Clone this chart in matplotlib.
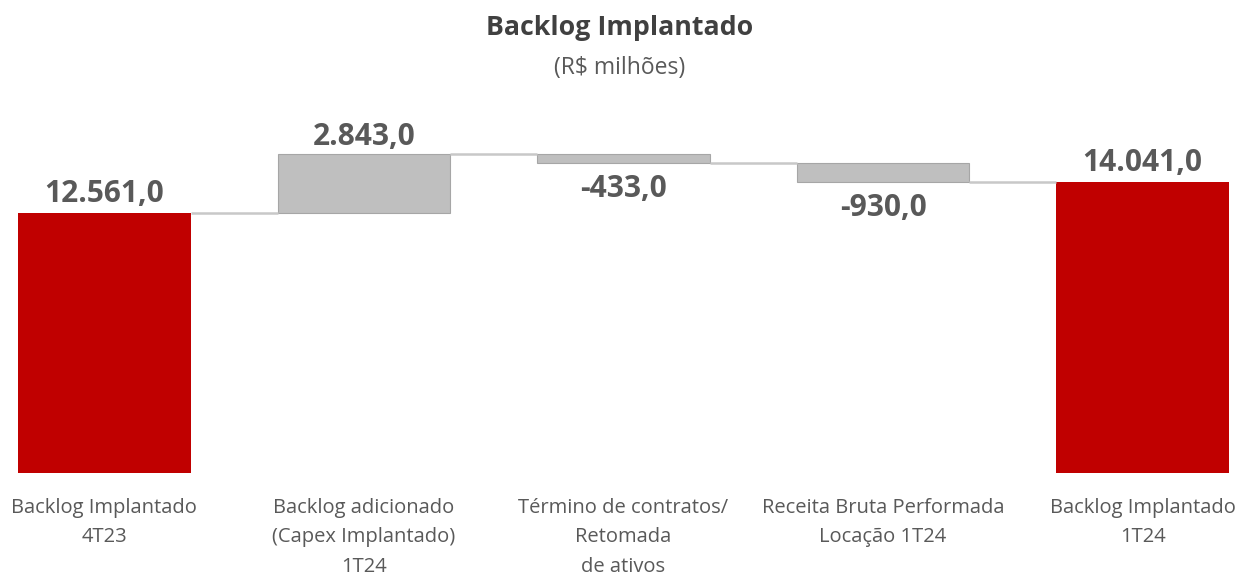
import matplotlib
matplotlib.use("Agg")
import matplotlib.pyplot as plt
import numpy as np

plt.rcParams["font.family"] = ["Open Sans", "DejaVu Sans"]

categories = [
    "Backlog Implantado\n4T23",
    "Backlog adicionado\n(Capex Implantado)\n1T24",
    "Término de contratos/\nRetomada\nde ativos",
    "Receita Bruta Performada\nLocação 1T24",
    "Backlog Implantado\n1T24",
]
values = [12561.0, 2843.0, -433.0, -930.0, 14041.0]
is_total = [True, False, False, False, True]
value_labels = ["12.561,0", "2.843,0", "-433,0", "-930,0", "14.041,0"]

RED = "#C00000"
GREY = "#BFBFBF"
TEXT = "#595959"

# waterfall bottoms / tops
bottoms, tops = [], []
running = 0.0
for v, tot in zip(values, is_total):
    if tot:
        bottoms.append(0.0)
        tops.append(v)
        running = v
    else:
        start = running
        running = running + v
        bottoms.append(min(start, running))
        tops.append(max(start, running))

fig = plt.figure(figsize=(12.39, 5.75), dpi=100)
ax = fig.add_axes([18 / 1239, 1 - 473 / 575, (1229 - 18) / 1239, 373 / 575])

x = np.arange(len(values))
w = 0.666
for i in range(len(values)):
    h = tops[i] - bottoms[i]
    if is_total[i]:
        ax.bar(x[i], h, bottom=bottoms[i], width=w, color=RED, edgecolor="none")
    else:
        ax.bar(x[i], h, bottom=bottoms[i], width=w, color=GREY,
               edgecolor="#A6A6A6", linewidth=0.8)

# connectors
levels = np.cumsum([values[0], values[1], values[2], values[3]])
for i in range(len(values) - 1):
    ax.plot([x[i] + w / 2, x[i + 1] - w / 2], [levels[i], levels[i]],
            color="#C8C8C8", lw=1.8, solid_capstyle="butt", zorder=1)

for i, lab in enumerate(value_labels):
    if values[i] >= 0:
        off = 3 if is_total[i] else 1.5
        ax.annotate(lab, (x[i], tops[i]), xytext=(0, off), textcoords="offset points",
                    ha="center", va="bottom", fontsize=21.5, fontweight="bold",
                    color=TEXT)
    else:
        ax.annotate(lab, (x[i], bottoms[i]), xytext=(0, -8), textcoords="offset points",
                    ha="center", va="top", fontsize=21.5, fontweight="bold",
                    color=TEXT)

ax.set_xlim(-w / 2, len(values) - 1 + w / 2)
ax.set_ylim(0, 373 * 48.3)
ax.set_xticks(x)
ax.set_xticklabels(categories, fontsize=14.5, color=TEXT, linespacing=1.62)
ax.tick_params(axis="x", length=0, pad=18)
ax.set_yticks([])
for s in ax.spines.values():
    s.set_visible(False)

fig.text(0.5, 1 - 28 / 575, "Backlog Implantado", ha="center", va="center",
         fontsize=19.3, fontweight="bold", color="#404040")
fig.text(0.5, 1 - 68 / 575, "(R$ milhões)", ha="center", va="center",
         fontsize=16.5, color=TEXT)

fig.savefig("out.png", dpi=100)
